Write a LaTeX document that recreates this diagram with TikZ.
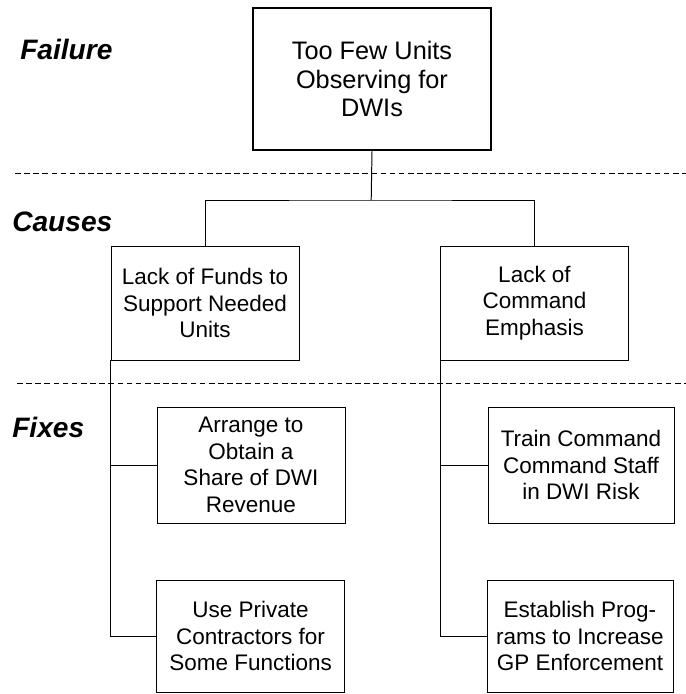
\documentclass[tikz,border=0pt]{standalone}
\usepackage{fontspec}
\setmainfont{Liberation Sans}
\begin{document}
\begin{tikzpicture}[
    box/.style={rectangle, draw, line width=0.7pt, align=center, inner sep=0pt,
      minimum width=4.7cm, font=\fontsize{16}{19}\selectfont},
    rowlabel/.style={anchor=base west, inner sep=0pt, font=\fontsize{20}{24}\selectfont\bfseries\itshape},
    sepline/.style={line width=0.7pt, dash pattern=on 4pt off 2.5pt},
    link/.style={line width=0.7pt}
  ]
  \useasboundingbox (0,0) rectangle (17.15,-17.35);

  % row labels
  \node[rowlabel] (lfail) at (0.5,-1.48) {Failure};
  \node[rowlabel] (lcause) at (0.3,-5.775) {Causes};
  \node[rowlabel] (lfix) at (0.3,-10.925) {Fixes};

  % separators
  \draw[sepline] (0.375,-4.325) -- (17.15,-4.325);
  \draw[sepline] (0.425,-9.575) -- (17.15,-9.575);

  % failure
  \node[box, line width=1.4pt, minimum width=5.95cm, minimum height=3.55cm,
    font=\fontsize{18}{20.5}\selectfont] (fail) at (9.3,-1.975) {Too Few Units\\Observing for\\DWIs};

  % causes
  \node[box, minimum height=2.85cm] (cfunds) at (5.125,-7.575) {Lack of Funds to\\Support Needed\\Units};
  \node[box, minimum height=2.85cm] (cemph) at (13.3625,-7.575) {Lack of\\Command\\Emphasis};

  % fixes
  \node[box, minimum height=2.9cm] (fshare) at (6.275,-11.625) {Arrange to\\Obtain a\\Share of DWI\\Revenue};
  \node[box, minimum height=2.8cm] (fprivate) at (6.265,-15.9) {Use Private\\Contractors for\\Some Functions};
  \node[box, minimum width=4.65cm, minimum height=2.9cm] (ftrain) at (14.525,-11.625) {Train Command\\Command Staff\\in DWI Risk};
  \node[box, minimum width=4.65cm, minimum height=2.8cm] (fprog) at (14.5,-15.9) {Establish Prog-\\rams to Increase\\GP Enforcement};

  % connectors
  \coordinate (fork) at (9.28,-5.0);
  \draw[link] (fail.south) -- (fork);
  \draw[link] (cfunds.north) |- (fork) -| (cemph.north);
  \draw[link] (cfunds.south west) |- (fshare.west);
  \draw[link] (cfunds.south west) |- (fprivate.west);
  \draw[link] (cemph.south west) |- (ftrain.west);
  \draw[link] (cemph.south west) |- (fprog.west);
\end{tikzpicture}
\end{document}
